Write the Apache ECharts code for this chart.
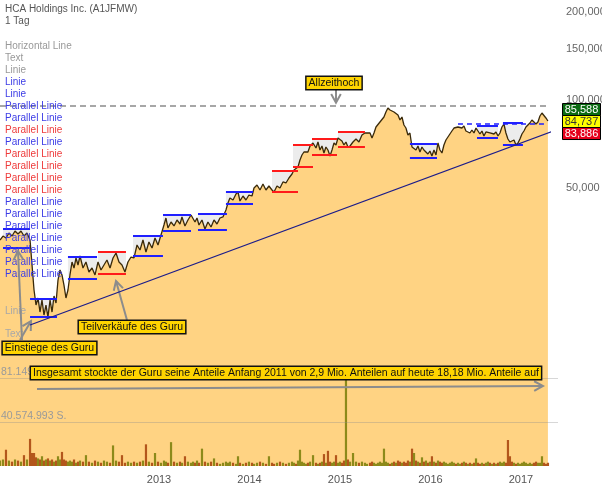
<!DOCTYPE html>
<html><head><meta charset="utf-8">
<script src="https://cdn.jsdelivr.net/npm/echarts/dist/echarts.min.js"></script>
<style>html,body{margin:0;padding:0;background:#fff}#c{width:602px;height:494px}</style>
</head><body><div id="c"></div>
<script>
// ---------- DATA (dates as decimal years, prices in EUR, volume in millions of shares) ----------
const dates = [
2011.243,2011.276,2011.309,2011.342,2011.376,2011.409,2011.442,2011.475,2011.508,2011.541,2011.575,
2011.597,2011.619,2011.641,2011.663,2011.685,2011.707,2011.729,2011.751,2011.773,2011.796,2011.818,2011.840,2011.862,2011.884,2011.906,2011.928,2011.950,2011.972,2011.994,2012.016,2012.039,2012.061,2012.083,2012.105,2012.127,
2012.160,2012.193,2012.226,2012.260,2012.293,2012.326,2012.359,2012.392,2012.425,2012.459,2012.492,2012.525,2012.558,2012.591,2012.624,2012.657,2012.691,2012.724,2012.757,2012.790,2012.823,2012.856,2012.889,2012.923,2012.956,2012.989,2013.022,
2013.055,2013.077,2013.099,2013.133,2013.166,2013.199,2013.232,2013.254,2013.287,2013.320,2013.354,2013.376,2013.398,2013.420,2013.442,2013.475,2013.508,2013.541,2013.575,2013.608,2013.641,2013.674,2013.707,2013.740,2013.762,2013.784,2013.818,2013.851,2013.873,2013.895,2013.928,2013.961,2013.994,2014.028,2014.050,2014.083,2014.116,2014.149,2014.182,2014.215,2014.249,2014.271,2014.304,2014.337,2014.370,2014.403,2014.436,2014.470,2014.492,2014.514,2014.536,2014.558,2014.580,2014.602,2014.624,2014.646,2014.669,2014.702,2014.735,2014.757,2014.779,2014.801,2014.823,2014.845,2014.867,2014.890,2014.912,2014.934,2014.956,2014.978,2015.000,2015.022,2015.044,2015.066,2015.088,2015.111,2015.144,2015.177,2015.210,2015.243,2015.276,2015.298,2015.332,
2015.354,2015.376,2015.398,2015.420,2015.442,2015.464,2015.486,2015.508,2015.530,2015.553,2015.575,2015.597,2015.619,2015.641,2015.663,2015.685,2015.707,2015.729,2015.751,2015.773,2015.796,2015.818,2015.840,2015.862,2015.884,2015.906,2015.928,2015.950,2015.972,2015.994,2016.016,2016.039,2016.061,2016.083,2016.105,2016.127,2016.149,2016.171,2016.193,2016.215,2016.237,2016.260,2016.282,2016.304,2016.326,2016.348,2016.370,2016.392,2016.414,2016.436,2016.458,2016.481,2016.503,2016.525,2016.547,2016.569,2016.591,2016.613,2016.635,2016.657,2016.679,2016.702,2016.724,2016.746,2016.768,2016.790,2016.812,2016.834,2016.856,2016.878,2016.900,2016.923,2016.945,2016.967,2016.989,2017.011,2017.033,2017.055,2017.077,2017.099,2017.121,2017.143,2017.166,2017.188,2017.210,2017.232,2017.254,2017.276,2017.298
];
const prices = [
33.19,34.25,33.72,35.07,34.25,35.63,34.80,35.63,34.25,35.07,33.19,
27.26,22.39,19.89,21.02,18.82,20.69,18.38,19.89,18.09,20.69,18.82,21.36,20.21,24.22,26.21,25.20,23.28,21.02,22.39,25.20,27.91,26.62,28.81,27.26,29.26,
26.62,27.91,25.80,26.62,25.20,27.91,26.21,27.26,28.35,26.62,28.81,29.96,27.91,27.26,25.80,27.91,29.03,28.81,31.91,30.68,33.19,30.20,32.67,31.16,33.72,31.91,34.52,
37.36,39.47,36.49,38.25,37.07,38.86,37.65,39.79,37.07,38.86,40.42,41.06,38.25,39.47,37.36,38.86,36.20,38.25,36.78,38.86,37.65,39.47,39.79,42.04,44.43,46.21,45.49,47.68,48.44,45.13,46.94,45.49,47.31,46.94,50.00,51.19,49.21,51.60,49.21,50.79,49.21,48.44,50.79,50.00,52.42,52.01,54.09,55.82,57.61,56.71,59.00,62.34,64.84,66.39,67.44,66.39,69.60,71.27,68.51,71.83,67.44,69.60,65.87,69.06,67.44,64.33,67.44,71.27,70.15,74.13,74.72,72.40,70.15,71.83,69.06,69.60,71.83,73.55,71.83,75.90,77.11,78.33,77.11,
74.13,77.11,80.84,82.12,84.09,84.75,87.47,90.99,93.89,92.43,93.16,90.99,92.43,88.86,85.42,87.47,82.12,80.20,75.90,77.11,69.06,70.15,67.44,69.60,66.39,69.06,67.44,68.51,65.35,66.91,64.33,67.44,64.84,71.27,67.44,65.87,70.15,72.97,74.72,75.90,78.33,80.20,79.57,80.84,81.48,80.20,81.48,78.33,79.57,77.11,78.95,77.11,80.20,78.33,76.50,78.33,75.31,77.72,78.95,77.11,78.33,76.50,77.72,75.31,77.11,80.84,82.77,77.11,73.55,71.83,70.71,72.97,70.15,71.27,73.55,76.50,78.33,80.84,82.12,83.43,85.42,84.09,82.77,84.09,88.16,90.27,88.86,86.79,84.737
];
const volumes = [
5,6,15,5,4,6,5,4,10,6,25,
12,12,8,7,6,9,5,6,7,5,6,4,5,9,6,13,6,5,4,5,4,6,3,4,5,
4,10,4,3,5,4,3,5,4,3,19,5,4,10,3,4,3,4,3,4,5,20,4,3,12,4,3,
5,4,3,22,4,3,4,3,9,4,3,4,3,5,3,16,4,3,4,7,3,2,3,4,3,4,3,2,9,3,2,3,4,3,2,3,4,3,2,9,3,2,3,4,3,2,3,4,3,2,5,15,4,3,2,3,4,10,3,2,3,4,11,3,14,4,3,4,10,3,4,3,5,120,6,4,12,4,3,4,3,2,3,
4,3,2,3,4,3,16,4,3,2,3,4,3,5,4,3,4,3,5,4,16,12,5,4,3,8,4,5,3,4,9,4,3,5,4,3,4,3,2,3,4,3,2,3,2,3,4,3,2,3,2,3,7,3,2,3,2,3,4,3,2,3,2,3,4,3,4,3,24,9,4,3,2,3,2,3,4,3,2,3,2,3,4,3,3,9,3,2,3
];
// axis ticks
const xTicks = [2013, 2014, 2015, 2016, 2017];
const yTicks = [50, 100, 150, 200];
const volTicks = [0, 40.574993, 81.149986];
const volTickLabels = ['', '40.574.993 S.', '81.149.986 S. (5,0 M.)'];
// quote (ask / last / bid)
const quoteAsk = 85.588, quoteLast = 84.737, quoteBid = 83.886;
// all-time-high horizontal line
const athPrice = 95.38;
// parallel-line channels (guru buys = 'buy', partial sales = 'sell')
const parStart = [2011.276,2011.575,2011.994,2012.326,2012.713,2013.044,2013.431,2013.740,2014.249,2014.481,2014.691,2014.978,2015.773,2016.514,2016.801];
const parEnd   = [2011.575,2011.873,2012.315,2012.635,2013.044,2013.354,2013.751,2014.039,2014.536,2014.702,2014.967,2015.276,2016.072,2016.746,2017.022];
const parUpper = [36.20,20.86,29.03,30.20,34.25,40.42,40.74,48.44,57.16,70.15,73.55,77.72,70.71,81.48,83.43];
const parLower = [31.16,18.09,24.41,25.40,29.26,35.63,35.91,44.08,48.44,59.00,64.84,69.06,63.32,74.13,70.15];
const parKind  = ['buy','buy','buy','sell','buy','buy','buy','buy','sell','sell','sell','sell','buy','buy','buy'];
const dashLine = [[2016.304, 82.77], [2017.298, 82.77]];
// trend line
const trendLine = [[2011.575, 16.99], [2017.895, 90.27]];
// drawing-tool list shown top-left
const toolList = [
 ['Horizontal Line','note'],['Text','note'],['Linie','note'],['Linie','buy'],['Linie','buy'],
 ['Parallel Linie','buy'],['Parallel Linie','buy'],['Parallel Linie','sell'],['Parallel Linie','buy'],['Parallel Linie','sell'],
 ['Parallel Linie','sell'],['Parallel Linie','sell'],['Parallel Linie','sell'],['Parallel Linie','buy'],['Parallel Linie','buy'],
 ['Parallel Linie','buy'],['Parallel Linie','buy'],['Parallel Linie','buy'],['Parallel Linie','buy'],['Parallel Linie','buy']
];
// annotations anchored in data coordinates [year, price]
const notes = [
 {text:'Allzeithoch', at:[2014.934,114.3], arrows:[[[2014.956,108.2],[2014.956,97.9]]]},
 {text:'Teilverkäufe des Guru', at:[2012.702,16.72], arrows:[[[2012.646,17.67],[2012.525,24.03]]]},
 {text:'Einstiege des Guru', at:[2011.790,14.17], arrows:[[[2011.486,15.10],[2011.442,30.44]],[[2011.464,15.10],[2011.586,17.53]]]},
 {text:'Insgesamt stockte der Guru seine Anteile Anfang 2011 von 2,9 Mio. Anteilen auf heute 18,18 Mio. Anteile auf', at:[2014.403,11.64], arrows:[[[2011.652,10.26],[2017.243,10.51]]]}
];

// ---------- CHART ----------
const FONT = '"Liberation Sans", Arial, sans-serif';
const BLUE = '#1f1fff', RED = '#ff1a1a';
const fmtP = v => Number(v).toFixed(3).replace('.', ',');
const chart = echarts.init(document.getElementById('c'), null, {renderer:'canvas', width:602, height:494});

const pricePts = dates.map((d,i) => [d, prices[i]]);
const volPts = dates.map((d,i) => ({value:[d, volumes[i]], itemStyle:{color: (i>0 && prices[i]<prices[i-1]) ? '#b3561c' : '#8c8a1a'}}));
const segs = [{coords: dashLine, lineStyle:{color:BLUE, type:[5,4], width:1.5}}];
parStart.forEach((s,i) => {
  const c = parKind[i] === 'buy' ? BLUE : RED;
  segs.push({coords:[[s, parUpper[i]], [parEnd[i], parUpper[i]]], lineStyle:{color:c}});
  segs.push({coords:[[s, parLower[i]], [parEnd[i], parLower[i]]], lineStyle:{color:c}});
});
const areas = parStart.map((s,i) => [{coord:[s, parUpper[i]]}, {coord:[parEnd[i], parLower[i]]}]);
const volLabel = v => { const k = volTicks.findIndex(t => Math.abs(t - v) < 1e-3); return k >= 0 ? volTickLabels[k] : ''; };

chart.setOption({
  animation:false,
  textStyle:{fontFamily:FONT},
  grid:[
    {left:0, right:53, top:12, bottom:28, outerBoundsMode:'none'},
    {left:0, right:44, top:378, bottom:28, outerBoundsMode:'none'}
  ],
  xAxis:[
    {type:'value', gridIndex:0, min:2011.243, max:2017.31, show:false},
    {type:'value', gridIndex:1, min:2011.243, max:2017.409,
     axisLine:{show:false}, axisTick:{show:false}, splitLine:{show:false},
     axisLabel:{customValues:xTicks, formatter:v => String(Math.round(v)), color:'#555', fontSize:11, margin:8, fontFamily:FONT}}
  ],
  yAxis:[
    {type:'log', gridIndex:0, position:'right', min:5.596, max:200, logBase:10,
     axisLine:{show:false}, axisTick:{show:false}, splitLine:{show:false},
     axisLabel:{customValues:yTicks, formatter:fmtP, color:'#666', fontSize:11, margin:17, fontFamily:FONT}},
    {type:'value', gridIndex:1, position:'left', min:0, max:volTicks[2], interval:volTicks[1], z:5,
     axisLine:{show:false}, axisTick:{show:false},
     splitLine:{show:true, showMinLine:false, lineStyle:{color:'rgba(140,140,140,0.35)'}},
     axisLabel:{inside:true, verticalAlign:'bottom', color:'#9a9a9a', fontSize:10.5, margin:1, showMinLabel:false, formatter:volLabel, fontFamily:FONT}}
  ],
  series:[
    {type:'line', xAxisIndex:0, yAxisIndex:0, data:pricePts, symbol:'none', z:2,
     lineStyle:{color:'#3a2a0a', width:1.3}, areaStyle:{color:'#ffd383', opacity:1, origin:'start'},
     markArea:{silent:true, itemStyle:{color:'rgba(205,205,205,0.38)'}, data:areas},
     markLine:{silent:true, symbol:'none', label:{show:false}, lineStyle:{color:'#8a8a8a', type:[6,4], width:1.5}, data:[{yAxis:athPrice}]}},
    {type:'bar', xAxisIndex:1, yAxisIndex:1, data:volPts, barWidth:2.2, z:3},
    {type:'lines', coordinateSystem:'cartesian2d', xAxisIndex:0, yAxisIndex:0, data:segs, silent:true, z:4,
     lineStyle:{width:2, opacity:1}},
    {type:'line', xAxisIndex:0, yAxisIndex:0, data:trendLine, symbol:'none', clip:false, z:60,
     lineStyle:{color:'#1c1c8a', width:1.2}}
  ]
});

// ---------- ANNOTATIONS ----------
const px = p => chart.convertToPixel({seriesIndex:0}, p);
const G = [];
const txt = (t, x, y, fill) => G.push({type:'text', x:x, y:y, z:40,
  style:{text:t, fill:fill, font:'10px '+FONT, align:'left', verticalAlign:'middle'}});
txt('HCA Holdings Inc. (A1JFMW)', 5, 9, '#555');
txt('1 Tag', 5, 21, '#555');
const kindColor = {note:'#999', buy:'#3c3ce6', sell:'#ee3a3a'};
toolList.forEach((it, i) => txt(it[0], 5, 46 + i*12, kindColor[it[1]]));
txt('Linie', 5, 311, '#a8a8a8');
txt('Text', 5, 334, '#a8a8a8');

function arrow(a, b) {
  const p0 = px(a), p1 = px(b), h = 10;
  const ang = Math.atan2(p1[1]-p0[1], p1[0]-p0[0]);
  const l = [p1[0] + h*Math.cos(ang+Math.PI-0.5), p1[1] + h*Math.sin(ang+Math.PI-0.5)];
  const r = [p1[0] + h*Math.cos(ang+Math.PI+0.5), p1[1] + h*Math.sin(ang+Math.PI+0.5)];
  G.push({type:'polyline', z:41, shape:{points:[p0, p1]}, style:{stroke:'#8c8c8c', lineWidth:2, fill:'none'}});
  G.push({type:'polyline', z:41, shape:{points:[l, p1, r]}, style:{stroke:'#8c8c8c', lineWidth:2, fill:'none'}});
}
notes.forEach(n => {
  n.arrows.forEach(a => arrow(a[0], a[1]));
  const c = px(n.at);
  G.push({type:'text', x:c[0], y:c[1], z:45,
    style:{text:n.text, fill:'#111', font:'10.5px '+FONT, align:'center', verticalAlign:'middle',
           backgroundColor:'#ffd400', borderColor:'#111', borderWidth:1.5, padding:[1,2,0,2]}});
});

// quote boxes at the right edge, centred on the last price
const lastY = px([dates[dates.length-1], quoteLast])[1];
const qbox = (val, cy, bg, fg) => {
  G.push({type:'rect', z:50, shape:{x:562.5, y:cy-6, width:38, height:12}, style:{fill:bg, stroke:'#000', lineWidth:1}});
  G.push({type:'text', x:581.5, y:cy+0.5, z:51, style:{text:fmtP(val), fill:fg, font:'11px '+FONT, align:'center', verticalAlign:'middle'}});
};
qbox(quoteAsk, lastY-11.5, '#0b6b12', '#fff');
qbox(quoteLast, lastY+0.5, '#ffff00', '#333');
qbox(quoteBid, lastY+12.5, '#e6001c', '#fff');

chart.setOption({graphic:{elements:G}});
</script>
</body></html>
